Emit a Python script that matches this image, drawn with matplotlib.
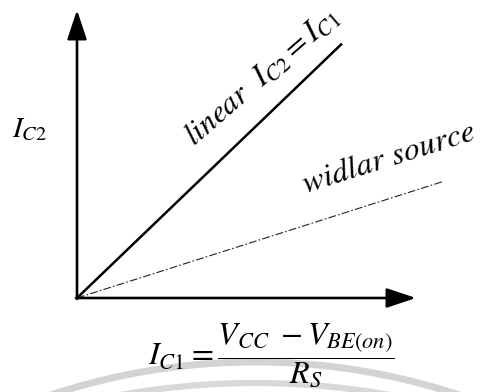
import numpy as np
import matplotlib
matplotlib.use("Agg")
import matplotlib.pyplot as plt
from matplotlib.patches import Arc

plt.rcParams["mathtext.fontset"] = "stix"
plt.rcParams["font.family"] = "STIXGeneral"

# 曲线数据（输入电流 I_C1 与输出电流 I_C2）
ic1 = [0, 265]
ic2_linear = [0, 265]      # I_C2 = I_C1
ic1_widlar = [0, 365]
ic2_widlar = [0, 121]      # 威德拉电流源，斜率较小

axis_x_end = 339
axis_y_end = 300

W, H = 482, 392
YS = 0.96   # y 方向每单位像素数

fig = plt.figure(figsize=(W / 100, H / 100), dpi=100)

# 背景水印弧线
bg = fig.add_axes([0, 0, 1, 1])
bg.set_xlim(0, W)
bg.set_ylim(H, 0)
bg.axis("off")
bg.add_patch(Arc((255, 1011), 2 * 649, 2 * 649, theta1=240, theta2=300,
                 color="#d3d3d3", lw=5))
bg.add_patch(Arc((255, 1148), 2 * 765, 2 * 765, theta1=255, theta2=285,
                 color="#d8d8d8", lw=4.5))

ax = fig.add_axes([0, 0, 1, 1])
ax.patch.set_alpha(0)
ax.set_xlim(-77, W - 77)
ax.set_ylim(-(H - 298) / YS, 298 / YS)
ax.axis("off")

# 坐标轴箭头
arrow = dict(arrowstyle="-|>,head_length=0.9,head_width=0.3", lw=1.9,
             color="black", mutation_scale=20, shrinkA=0, shrinkB=0)
ax.annotate("", xy=(0, axis_y_end), xytext=(0, -1), arrowprops=arrow)
ax.annotate("", xy=(axis_x_end, 0), xytext=(-1, 0), arrowprops=arrow)

# 两条特性线
ax.plot(ic1, ic2_linear, color="black", lw=1.8, solid_capstyle="butt")
ax.plot(ic1_widlar, ic2_widlar, color="#222222", lw=0.8,
        linestyle=(0, (7, 2, 1.5, 2)))

# 文字标注
ax.text(-65, (298 - 137) / YS, r"$I_{C2}$", fontsize=21, ha="left", va="baseline")
ax.text(194 - 77, (298 - 146) / YS, r"linear  $I_{C2} = I_{C1}$",
        fontsize=22.5, style="italic", rotation=41, rotation_mode="anchor",
        ha="left", va="baseline")
ax.text(306 - 77, (298 - 193) / YS, "widlar source", fontsize=23.3,
        style="italic", rotation=17.5, rotation_mode="anchor",
        ha="left", va="baseline")
ax.text(271 - 77, (298 - 355) / YS,
        r"$I_{C1} = \dfrac{V_{CC}\ -V_{BE(on)}}{R_S}$",
        fontsize=23, ha="center", va="center")

fig.savefig("out.png", dpi=100)
